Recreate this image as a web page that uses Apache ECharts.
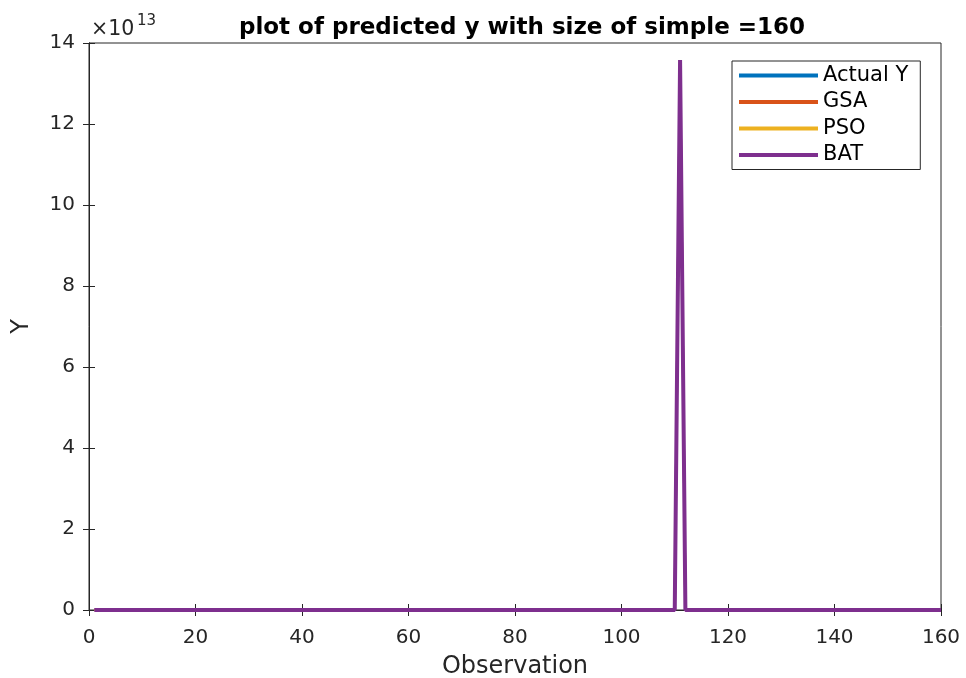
<!DOCTYPE html>
<html>
<head>
<meta charset="utf-8">
<script src="https://cdn.jsdelivr.net/npm/echarts@6/dist/echarts.min.js"></script>
<style>html,body{margin:0;padding:0;background:#fff}#c{width:966px;height:678px}</style>
</head>
<body>
<div id="c"></div>
<script>
var observations = [
  1,2,3,4,5,6,7,8,9,10,
  11,12,13,14,15,16,17,18,19,20,
  21,22,23,24,25,26,27,28,29,30,
  31,32,33,34,35,36,37,38,39,40,
  41,42,43,44,45,46,47,48,49,50,
  51,52,53,54,55,56,57,58,59,60,
  61,62,63,64,65,66,67,68,69,70,
  71,72,73,74,75,76,77,78,79,80,
  81,82,83,84,85,86,87,88,89,90,
  91,92,93,94,95,96,97,98,99,100,
  101,102,103,104,105,106,107,108,109,110,
  111,112,113,114,115,116,117,118,119,120,
  121,122,123,124,125,126,127,128,129,130,
  131,132,133,134,135,136,137,138,139,140,
  141,142,143,144,145,146,147,148,149,150,
  151,152,153,154,155,156,157,158,159,160];
var actualY = [
  0,0,0,0,0,0,0,0,0,0,
  0,0,0,0,0,0,0,0,0,0,
  0,0,0,0,0,0,0,0,0,0,
  0,0,0,0,0,0,0,0,0,0,
  0,0,0,0,0,0,0,0,0,0,
  0,0,0,0,0,0,0,0,0,0,
  0,0,0,0,0,0,0,0,0,0,
  0,0,0,0,0,0,0,0,0,0,
  0,0,0,0,0,0,0,0,0,0,
  0,0,0,0,0,0,0,0,0,0,
  0,0,0,0,0,0,0,0,0,0,
  1.358e14,0,0,0,0,0,0,0,0,0,
  0,0,0,0,0,0,0,0,0,0,
  0,0,0,0,0,0,0,0,0,0,
  0,0,0,0,0,0,0,0,0,0,
  0,0,0,0,0,0,0,0,0,0];
var gsa = [
  0,0,0,0,0,0,0,0,0,0,
  0,0,0,0,0,0,0,0,0,0,
  0,0,0,0,0,0,0,0,0,0,
  0,0,0,0,0,0,0,0,0,0,
  0,0,0,0,0,0,0,0,0,0,
  0,0,0,0,0,0,0,0,0,0,
  0,0,0,0,0,0,0,0,0,0,
  0,0,0,0,0,0,0,0,0,0,
  0,0,0,0,0,0,0,0,0,0,
  0,0,0,0,0,0,0,0,0,0,
  0,0,0,0,0,0,0,0,0,0,
  1.358e14,0,0,0,0,0,0,0,0,0,
  0,0,0,0,0,0,0,0,0,0,
  0,0,0,0,0,0,0,0,0,0,
  0,0,0,0,0,0,0,0,0,0,
  0,0,0,0,0,0,0,0,0,0];
var pso = [
  0,0,0,0,0,0,0,0,0,0,
  0,0,0,0,0,0,0,0,0,0,
  0,0,0,0,0,0,0,0,0,0,
  0,0,0,0,0,0,0,0,0,0,
  0,0,0,0,0,0,0,0,0,0,
  0,0,0,0,0,0,0,0,0,0,
  0,0,0,0,0,0,0,0,0,0,
  0,0,0,0,0,0,0,0,0,0,
  0,0,0,0,0,0,0,0,0,0,
  0,0,0,0,0,0,0,0,0,0,
  0,0,0,0,0,0,0,0,0,0,
  1.358e14,0,0,0,0,0,0,0,0,0,
  0,0,0,0,0,0,0,0,0,0,
  0,0,0,0,0,0,0,0,0,0,
  0,0,0,0,0,0,0,0,0,0,
  0,0,0,0,0,0,0,0,0,0];
var bat = [
  0,0,0,0,0,0,0,0,0,0,
  0,0,0,0,0,0,0,0,0,0,
  0,0,0,0,0,0,0,0,0,0,
  0,0,0,0,0,0,0,0,0,0,
  0,0,0,0,0,0,0,0,0,0,
  0,0,0,0,0,0,0,0,0,0,
  0,0,0,0,0,0,0,0,0,0,
  0,0,0,0,0,0,0,0,0,0,
  0,0,0,0,0,0,0,0,0,0,
  0,0,0,0,0,0,0,0,0,0,
  0,0,0,0,0,0,0,0,0,0,
  1.358e14,0,0,0,0,0,0,0,0,0,
  0,0,0,0,0,0,0,0,0,0,
  0,0,0,0,0,0,0,0,0,0,
  0,0,0,0,0,0,0,0,0,0,
  0,0,0,0,0,0,0,0,0,0];
var xTicks = [0,20,40,60,80,100,120,140,160];
var yTickLabels = ['0','2','4','6','8','10','12','14'];
var seriesNames = ['Actual Y','GSA','PSO','BAT'];
var seriesColors = ['#0072BD','#D95319','#EDB120','#7E2F8E'];
var seriesWidths = [2.4, 2.4, 2.4, 4];
var seriesValues = [actualY, gsa, pso, bat];

function pairs(v){ return observations.map(function(x,i){ return [x, v[i]]; }); }

var font = '"DejaVu Sans", sans-serif';
var chart = echarts.init(document.getElementById('c'), null, {renderer:'canvas'});
var axisLine = {show:true, lineStyle:{color:'#262626', width:1}};
var tick = {show:true, inside:true, length:6, lineStyle:{color:'#262626'}};
chart.setOption({
  backgroundColor:'#fff',
  animation:false,
  title:{text:'plot of predicted y with size of simple =160', left:517, top:12, textAlign:'center',
    textStyle:{fontFamily:font, fontSize:23, fontWeight:'bold', color:'#000'}},
  grid:{left:89, right:25, top:43, bottom:68, containLabel:false, outerBoundsMode:'none',
    show:true, borderColor:'#262626', borderWidth:1, backgroundColor:'#fff'},
  legend:{data:seriesNames, orient:'vertical', left:732, top:61, icon:'rect', itemWidth:79, itemHeight:4,
    itemGap:5.5, padding:[4,12,4,7], borderColor:'#262626', borderWidth:1, backgroundColor:'#fff',
    textStyle:{fontFamily:font, fontSize:21, color:'#000'}},
  xAxis:[{type:'value', min:xTicks[0], max:xTicks[xTicks.length-1], interval:xTicks[1]-xTicks[0], name:'Observation', nameLocation:'middle', nameGap:45,
    nameTextStyle:{fontFamily:font, fontSize:24, color:'#262626'},
    axisLine:axisLine, axisTick:tick,
    axisLabel:{fontFamily:font, fontSize:20, color:'#262626', margin:18}, splitLine:{show:false}},
   {type:'value', position:'top', min:xTicks[0], max:xTicks[xTicks.length-1], interval:xTicks[1]-xTicks[0], axisLine:axisLine,
    axisTick:tick, axisLabel:{show:false}, splitLine:{show:false}}],
  yAxis:[{type:'value', min:0, max:1.4e14, interval:2e13, name:'Y', nameLocation:'middle', nameGap:55, nameRotate:90,
    nameTextStyle:{fontFamily:font, fontSize:24, color:'#262626'},
    axisLine:axisLine, axisTick:tick,
    axisLabel:{fontFamily:font, fontSize:20, color:'#262626', margin:14, formatter:function(v){return yTickLabels[Math.round(v/2e13)];}},
    splitLine:{show:false}},
   {type:'value', position:'right', min:0, max:1.4e14, interval:2e13, axisLine:axisLine,
    axisTick:tick, axisLabel:{show:false}, splitLine:{show:false}}],
  graphic:[
    {type:'text', x:91, y:30, style:{text:'×10', fontFamily:font, fontSize:20.5, fill:'#262626', verticalAlign:'middle'}},
    {type:'text', x:137, y:21, style:{text:'13', fontFamily:font, fontSize:15, fill:'#262626', verticalAlign:'middle'}}
  ],
  series:seriesNames.map(function(n,i){
    return {name:n, type:'line', data:pairs(seriesValues[i]), showSymbol:false, symbol:'none', color:seriesColors[i],
      lineStyle:{width:seriesWidths[i], color:seriesColors[i]}, z:2+i};
  })
});
</script>
</body>
</html>
